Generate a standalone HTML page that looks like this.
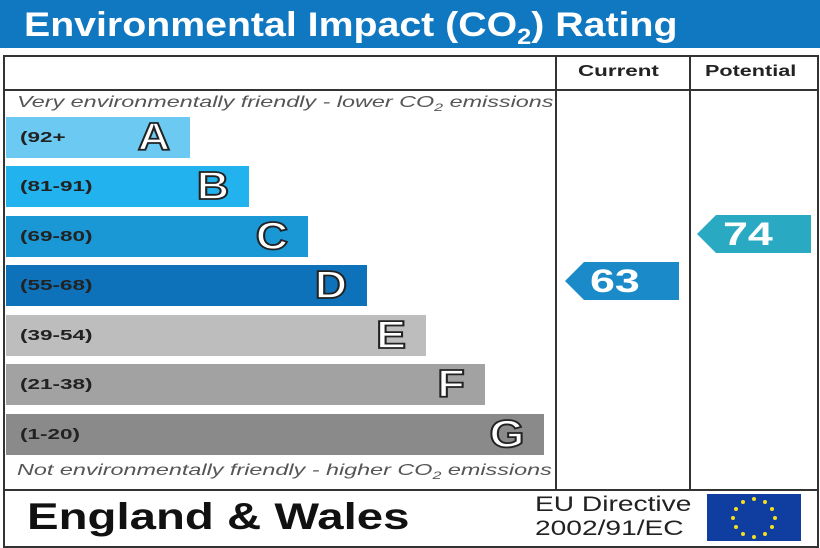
<!DOCTYPE html>
<html><head><meta charset="utf-8"><style>
body{margin:0;width:820px;height:547px;background:#fff;font-family:"Liberation Sans",sans-serif;position:relative;overflow:hidden}
.a{position:absolute;transform-origin:0 0}
.bar{position:absolute;left:6px;height:41px}
.bar .r{position:absolute;left:14px;top:12px;font-size:15px;font-weight:bold;color:#222;transform:scaleX(1.5);transform-origin:0 0}
.bar .l{position:absolute;right:20px;top:-1px;font-size:39px;font-weight:bold;color:#fff;-webkit-text-stroke:1.8px #222;transform:scaleX(1.15);transform-origin:100% 0}
.it{position:absolute;left:17px;font-size:16px;font-style:italic;color:#555;transform:scaleX(1.46);transform-origin:0 0;white-space:nowrap}
</style></head><body>
<div class="a" style="left:0;top:0;width:820px;height:48px;background:#1078c0"></div>
<div class="a" style="left:24px;top:6px;font-size:34px;font-weight:bold;color:#fff;transform:scaleX(1.155);white-space:nowrap">Environmental Impact (CO<sub style="font-size:22px">2</sub>) Rating</div>
<div class="a" style="left:3px;top:55px;width:812px;height:489px;border:2px solid #333"></div>
<div class="a" style="left:3px;top:89px;width:814px;height:2px;background:#333"></div>
<div class="a" style="left:3px;top:489px;width:814px;height:2px;background:#333"></div>
<div class="a" style="left:555px;top:55px;width:2px;height:436px;background:#333"></div>
<div class="a" style="left:689px;top:55px;width:2px;height:436px;background:#333"></div>
<div class="a" style="left:578px;top:63px;font-size:16px;font-weight:bold;color:#222;transform:scaleX(1.4)">Current</div>
<div class="a" style="left:705px;top:63px;font-size:16px;font-weight:bold;color:#222;transform:scaleX(1.35)">Potential</div>
<div class="it" style="top:94px">Very environmentally friendly - lower CO<sub style="font-size:11px">2</sub> emissions</div>
<div class="it" style="top:462px">Not environmentally friendly - higher CO<sub style="font-size:11px">2</sub> emissions</div>
<div class="bar" style="top:117px;width:184px;background:#6ccaf2"><span class="r">(92+</span><span class="l">A</span></div>
<div class="bar" style="top:166px;width:243px;background:#22b2ee"><span class="r">(81-91)</span><span class="l">B</span></div>
<div class="bar" style="top:216px;width:302px;background:#1a98d6"><span class="r">(69-80)</span><span class="l">C</span></div>
<div class="bar" style="top:265px;width:361px;background:#0e72ba"><span class="r">(55-68)</span><span class="l">D</span></div>
<div class="bar" style="top:315px;width:420px;background:#bdbdbd"><span class="r">(39-54)</span><span class="l">E</span></div>
<div class="bar" style="top:364px;width:479px;background:#a2a2a2"><span class="r">(21-38)</span><span class="l">F</span></div>
<div class="bar" style="top:414px;width:538px;background:#8a8a8a"><span class="r">(1-20)</span><span class="l">G</span></div>
<svg class="a" style="left:0;top:0" width="820" height="547">
<polygon points="565,281 584,262 679,262 679,300 584,300" fill="#1a8ac8"/>
<polygon points="697,234 716,215 811,215 811,253 716,253" fill="#2aaac2"/>
<rect x="707" y="494" width="94" height="47" fill="#103ea0"/>
<g fill="#f4e020">
<circle cx="754" cy="499" r="2"/><circle cx="765" cy="502" r="2"/><circle cx="772" cy="509" r="2"/><circle cx="775" cy="518" r="2"/><circle cx="772" cy="527" r="2"/><circle cx="765" cy="534" r="2"/><circle cx="754" cy="537" r="2"/><circle cx="743" cy="534" r="2"/><circle cx="736" cy="527" r="2"/><circle cx="733" cy="518" r="2"/><circle cx="736" cy="509" r="2"/><circle cx="743" cy="502" r="2"/>
</g></svg>
<div class="a" style="left:590px;top:263px;font-size:32px;font-weight:bold;color:#fff;transform:scaleX(1.4)">63</div>
<div class="a" style="left:723px;top:216px;font-size:32px;font-weight:bold;color:#fff;transform:scaleX(1.4)">74</div>
<div class="a" style="left:27px;top:496px;font-size:37px;font-weight:bold;color:#111;transform:scaleX(1.28);white-space:nowrap">England &amp; Wales</div>
<div class="a" style="left:535px;top:493px;font-size:21px;color:#222;line-height:24px;transform:scaleX(1.34);white-space:nowrap">EU Directive<br>2002/91/EC</div>
</body></html>
